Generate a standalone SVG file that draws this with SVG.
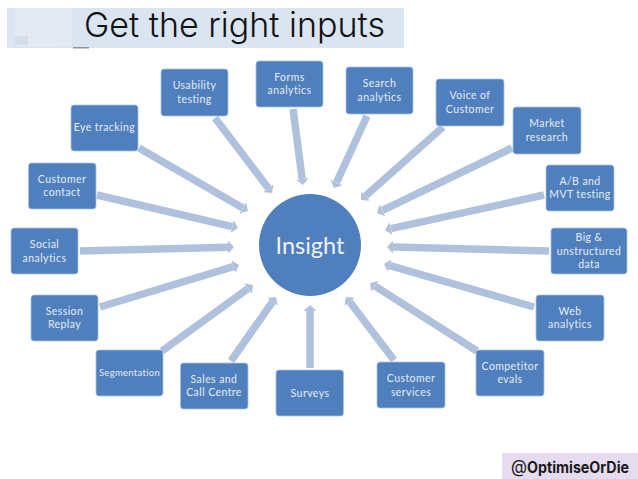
<svg xmlns="http://www.w3.org/2000/svg" width="638" height="479" viewBox="0 0 638 479">
<style>
.n{fill:#4f7fbc;stroke:#a9c3e2;stroke-width:.8}
.t{font-family:Lato,"Open Sans",sans-serif;font-size:10.500px;fill:#e6edf7;text-anchor:middle;letter-spacing:.42px}
.a{stroke:#b0c1de;stroke-width:7.500;marker-end:url(#h);fill:none}
</style>
<defs><marker id="h" markerUnits="userSpaceOnUse" markerWidth="7" markerHeight="14" refX="0" refY="7" orient="auto"><path d="M0 0.5L6 7L0 13.500Z" fill="#b0c1de"/></marker></defs>
<rect width="638" height="479" fill="#fff"/>
<g id="title">
<rect x="7" y="8" width="397" height="40" fill="#dbe5f1"/>
<rect x="15" y="8" width="57" height="38" fill="#e3eaf4"/>
<rect x="15" y="36" width="13" height="9" fill="#d5dde9"/>
<rect x="28" y="44" width="28" height="2" fill="#e9eef6"/>
<rect x="73" y="47" width="16" height="1.500" fill="#8a93ab"/>
<text x="84" y="37" font-family="Inter,Lato,sans-serif" font-size="34" font-weight="300" textLength="301" lengthAdjust="spacingAndGlyphs" fill="#111">Get the right inputs</text>
</g>
<g id="connectors">
<line class="a" x1="215" y1="118" x2="268.400" y2="188.200"/>
<line class="a" x1="293" y1="109" x2="302.200" y2="179"/>
<line class="a" x1="367" y1="116" x2="336.500" y2="182.500"/>
<line class="a" x1="443" y1="127" x2="365.500" y2="196"/>
<line class="a" x1="512" y1="148" x2="382.400" y2="210.400"/>
<line class="a" x1="544" y1="195" x2="390.900" y2="228.700"/>
<line class="a" x1="549" y1="251" x2="393" y2="247.100"/>
<line class="a" x1="534" y1="307" x2="389.800" y2="265.700"/>
<line class="a" x1="477" y1="351" x2="375" y2="286.200"/>
<line class="a" x1="394" y1="360" x2="349.600" y2="301.800"/>
<line class="a" x1="310" y1="368" x2="310" y2="311"/>
<line class="a" x1="231" y1="361" x2="272.500" y2="301.900"/>
<line class="a" x1="162" y1="351" x2="248.100" y2="288.500"/>
<line class="a" x1="100" y1="307" x2="233.300" y2="266.700"/>
<line class="a" x1="80" y1="251" x2="228" y2="247.200"/>
<line class="a" x1="97" y1="195" x2="232.200" y2="226.600"/>
<line class="a" x1="139" y1="148" x2="242.800" y2="208"/>
</g>
<g id="insight"><circle cx="310" cy="245" r="51" fill="#4f7fbc"/><text x="310" y="254" font-family="Lato,'Open Sans',sans-serif" font-size="23.500" fill="#eef3fa" text-anchor="middle">Insight</text></g>
<g id="usability"><rect class="n" x="161" y="69" width="67" height="47" rx="3"/><text class="t" x="194.500" y="89">Usability</text><text class="t" x="194.500" y="103">testing</text></g>
<g id="forms"><rect class="n" x="256" y="61" width="67" height="46" rx="3"/><text class="t" x="289.500" y="81">Forms</text><text class="t" x="289.500" y="94">analytics</text></g>
<g id="search"><rect class="n" x="346" y="67" width="67" height="47" rx="3"/><text class="t" x="379.500" y="87">Search</text><text class="t" x="379.500" y="101">analytics</text></g>
<g id="voice"><rect class="n" x="436" y="79" width="68" height="47" rx="3"/><text class="t" x="470" y="99">Voice of</text><text class="t" x="470" y="113">Customer</text></g>
<g id="market"><rect class="n" x="513" y="107" width="68" height="47" rx="3"/><text class="t" x="547" y="127">Market</text><text class="t" x="547" y="141">research</text></g>
<g id="abtest"><rect class="n" x="546" y="165" width="68" height="46" rx="3"/><text class="t" x="580" y="185">A/B and</text><text class="t" x="580" y="198">MVT testing</text></g>
<g id="bigdata"><rect class="n" x="551" y="228" width="76" height="46" rx="3"/><text class="t" x="589" y="241">Big &amp;</text><text class="t" x="589" y="255">unstructured</text><text class="t" x="589" y="268">data</text></g>
<g id="web"><rect class="n" x="536" y="295" width="68" height="46" rx="3"/><text class="t" x="570" y="315">Web</text><text class="t" x="570" y="328">analytics</text></g>
<g id="competitor"><rect class="n" x="476" y="350" width="68" height="46" rx="3"/><text class="t" x="510" y="370">Competitor</text><text class="t" x="510" y="383">evals</text></g>
<g id="customerservices"><rect class="n" x="377" y="362" width="68" height="46" rx="3"/><text class="t" x="411" y="382">Customer</text><text class="t" x="411" y="396">services</text></g>
<g id="surveys"><rect class="n" x="276" y="370" width="67.500" height="46" rx="3"/><text class="t" x="310" y="397">Surveys</text></g>
<g id="sales"><rect class="n" x="180.500" y="363" width="67.500" height="46" rx="3"/><text class="t" x="214" y="383">Sales and</text><text class="t" x="214" y="396">Call Centre</text></g>
<g id="segmentation"><rect class="n" x="96" y="350" width="67" height="46" rx="3"/><text class="t" x="129.500" y="376" style="font-size:9.500px;letter-spacing:.3px">Segmentation</text></g>
<g id="session"><rect class="n" x="31" y="295" width="67" height="46" rx="3"/><text class="t" x="64.500" y="315">Session</text><text class="t" x="64.500" y="328">Replay</text></g>
<g id="social"><rect class="n" x="11" y="228" width="67" height="46" rx="3"/><text class="t" x="44.500" y="248">Social</text><text class="t" x="44.500" y="262">analytics</text></g>
<g id="customercontact"><rect class="n" x="28.500" y="163" width="67.500" height="46" rx="3"/><text class="t" x="62" y="183">Customer</text><text class="t" x="62" y="196">contact</text></g>
<g id="eye"><rect class="n" x="71" y="105" width="67" height="46" rx="3"/><text class="t" x="104.500" y="131">Eye tracking</text></g>
<g id="handle"><rect x="502" y="453" width="136" height="26" fill="#e6dcf0"/><text x="511" y="473" font-family="Inter,Liberation Sans,sans-serif" font-weight="700" font-size="15.500" textLength="118" lengthAdjust="spacingAndGlyphs" fill="#1a1a1a"><tspan font-size="18" font-weight="400">@</tspan>OptimiseOrDie</text></g>
</svg>
